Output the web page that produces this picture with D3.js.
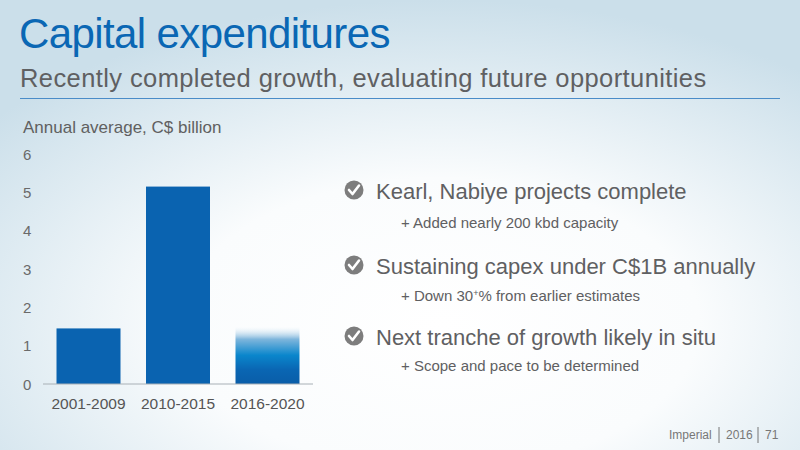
<!DOCTYPE html>
<html>
<head>
<meta charset="utf-8">
<script src="https://cdn.jsdelivr.net/npm/d3@7"></script>
<style>
  body { margin: 0; }
  svg text { font-family: Arial, "Liberation Sans", Helvetica, sans-serif; }
</style>
</head>
<body>
<svg id="chart" width="800" height="450"></svg>
<script>
// data
var periods = ["2001-2009", "2010-2015", "2016-2020"];
var capex = [1.45, 5.15, 1.5];
var yTicks = [0, 1, 2, 3, 4, 5, 6];
var bullets = ["Kearl, Nabiye projects complete", "Sustaining capex under C$1B annually", "Next tranche of growth likely in situ"];
var subBullets = ["+ Added nearly 200 kbd capacity", "+ Down 30", "+ Scope and pace to be determined"];

var svg = d3.select("#chart");
var defs = svg.append("defs");

// background
var bg = defs.append("radialGradient").attr("id", "bg")
    .attr("cx", 0.55).attr("cy", 0.72).attr("r", 0.72);
bg.append("stop").attr("offset", "0%").attr("stop-color", "#ffffff");
bg.append("stop").attr("offset", "45%").attr("stop-color", "#fafcfd");
bg.append("stop").attr("offset", "100%").attr("stop-color", "#cbdfea");
svg.append("rect").attr("width", 800).attr("height", 450).attr("fill", "url(#bg)");

// faded bar for the forecast
var fade = defs.append("linearGradient").attr("id", "fade")
    .attr("x1", 0).attr("y1", 1).attr("x2", 0).attr("y2", 0);
fade.append("stop").attr("offset", "0%").attr("stop-color", "#0a5da8");
fade.append("stop").attr("offset", "25%").attr("stop-color", "#0a66b3");
fade.append("stop").attr("offset", "50%").attr("stop-color", "#0a86cc");
fade.append("stop").attr("offset", "78%").attr("stop-color", "#7fb6dc");
fade.append("stop").attr("offset", "100%").attr("stop-color", "#ffffff").attr("stop-opacity", 0.2);

// header
svg.append("text").attr("x", 19).attr("y", 48)
    .attr("font-size", 42).attr("letter-spacing", -0.6).attr("fill", "#0a67b4")
    .text("Capital expenditures");
svg.append("text").attr("x", 20).attr("y", 87)
    .attr("font-size", 25.5).attr("letter-spacing", 0.4).attr("fill", "#5f6062")
    .text("Recently completed growth, evaluating future opportunities");
svg.append("line").attr("x1", 20).attr("x2", 780).attr("y1", 98.5).attr("y2", 98.5)
    .attr("stroke", "#4a8cc8").attr("stroke-width", 1.2);

// chart
var x = d3.scaleBand().domain(periods).range([43, 313]).paddingInner(0.285).paddingOuter(0.151);
var y = d3.scaleLinear().domain([0, 6]).range([384, 154]);

svg.append("text").attr("x", 23).attr("y", 133)
    .attr("font-size", 17).attr("fill", "#606060")
    .text("Annual average, C$ billion");

svg.selectAll(".ytick").data(yTicks).enter().append("text")
    .attr("x", 23).attr("y", d => y(d) + 5.5)
    .attr("font-size", 15).attr("fill", "#6a6a6a")
    .text(d => d);

svg.selectAll(".bar").data(capex).enter().append("rect")
    .attr("x", (d, i) => x(periods[i]))
    .attr("y", d => y(d))
    .attr("width", x.bandwidth())
    .attr("height", d => y(0) - y(d))
    .attr("fill", (d, i) => i == 2 ? "url(#fade)" : "#0a63b0");

svg.append("line").attr("x1", 43).attr("x2", 313).attr("y1", y(0)).attr("y2", y(0))
    .attr("stroke", "#a8b0b6").attr("stroke-width", 1);

svg.selectAll(".xlab").data(periods).enter().append("text")
    .attr("x", d => x(d) + x.bandwidth() / 2).attr("y", 409)
    .attr("text-anchor", "middle")
    .attr("font-size", 15.5).attr("fill", "#555")
    .text(d => d);

// bullets
var rowY = [191, 266, 337];
var subY = [223, 296, 366];

bullets.forEach(function(b, i) {
    var g = svg.append("g");
    g.append("circle").attr("cx", 354).attr("cy", rowY[i] - 1).attr("r", 9.5).attr("fill", "#7d7d7d");
    g.append("path")
        .attr("d", "M" + 349 + "," + (rowY[i] - 1) + " l3.5,4 l6.5,-8.5")
        .attr("fill", "none").attr("stroke", "#fff").attr("stroke-width", 2.6)
        .attr("stroke-linecap", "round").attr("stroke-linejoin", "round");
    g.append("text").attr("x", 376).attr("y", rowY[i] + 8)
        .attr("font-size", 22).attr("fill", "#5f6062")
        .text(b);
    var t = g.append("text").attr("x", 401).attr("y", subY[i] + 5)
        .attr("font-size", 15).attr("fill", "#5f6062")
        .text(subBullets[i]);
    if (i == 1) {
        t.append("tspan").attr("font-size", 9).attr("dy", -5).text("+");
        t.append("tspan").attr("dy", 5).text("% from earlier estimates");
    }
});

// footer
var foot = svg.append("g").attr("font-size", 12).attr("fill", "#777");
foot.append("text").attr("x", 669).attr("y", 439).text("Imperial");
foot.append("line").attr("x1", 719).attr("x2", 719).attr("y1", 427).attr("y2", 443).attr("stroke", "#777");
foot.append("text").attr("x", 726).attr("y", 439).text("2016");
foot.append("line").attr("x1", 758).attr("x2", 758).attr("y1", 427).attr("y2", 443).attr("stroke", "#777");
foot.append("text").attr("x", 765).attr("y", 439).text("71");
</script>
</body>
</html>
